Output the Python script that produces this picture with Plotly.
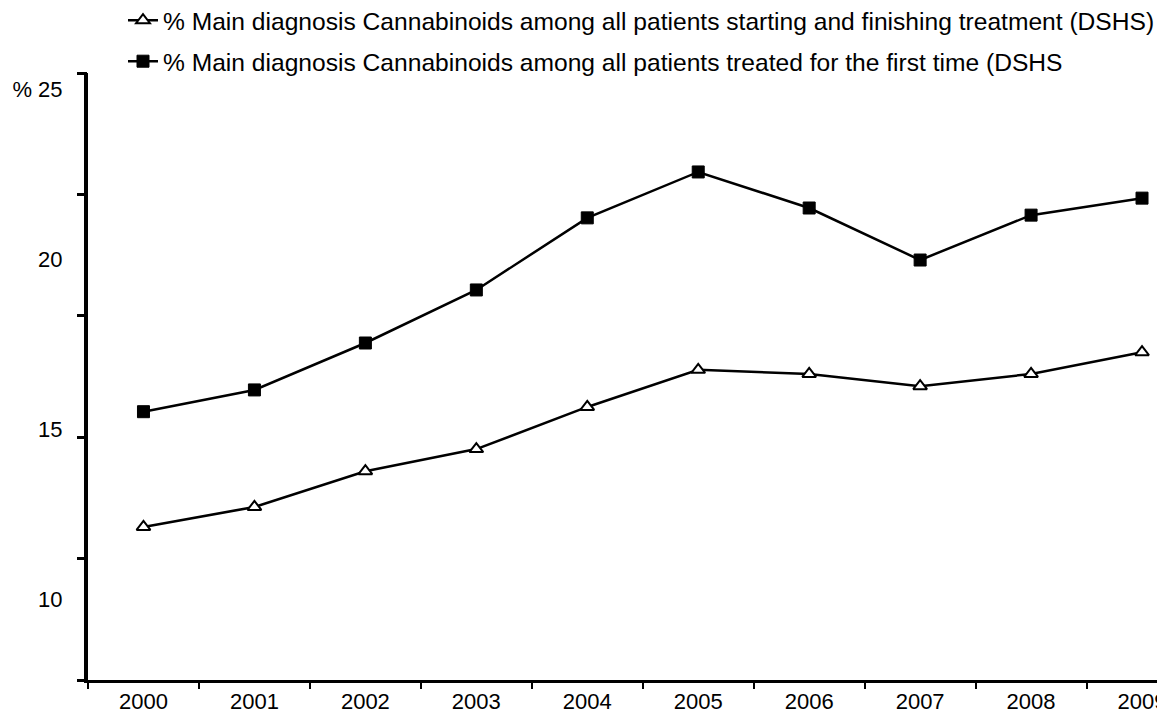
import numpy as np
import plotly.graph_objects as go

years = ["2000", "2001", "2002", "2003", "2004", "2005", "2006", "2007", "2008", "2009"]
pct_start_finish = [12.12, 12.71, 13.76, 14.41, 15.65, 16.74, 16.62, 16.26, 16.62, 17.26]
pct_first_time = [15.51, 16.15, 17.53, 19.09, 21.21, 22.56, 21.50, 19.97, 21.29, 21.79]
name_start_finish = "% Main diagnosis Cannabinoids among all patients starting and finishing treatment (DSHS)"
name_first_time = "% Main diagnosis Cannabinoids among all patients treated for the first time (DSHS"
y_labels = [10, 15, 20, 25]
y_label_text = ["10", "15", "20", "% 25"]

y_range = [7.62, 25.47]
x_range = [-0.5, 9.207]
FONT = "Arial, Liberation Sans, sans-serif"

fig = go.Figure()
fig.add_trace(go.Scatter(
    x=years, y=pct_start_finish, mode="lines+markers", name=name_start_finish,
    legendgroup="a",
    line=dict(color="black", width=2.5),
    marker=dict(symbol="triangle-up", size=12, color="white",
                line=dict(color="black", width=2)),
))
fig.add_trace(go.Scatter(
    x=years, y=pct_first_time, mode="lines+markers", name=name_first_time,
    legendgroup="b",
    line=dict(color="black", width=2.5),
    marker=dict(symbol="square", size=12, color="black",
                line=dict(color="black", width=1)),
))
# invisible trace on second y axis for tick marks
fig.add_trace(go.Scatter(x=years, y=pct_first_time, yaxis="y2", mode="markers",
                         marker=dict(opacity=0), showlegend=False, hoverinfo="skip"))

fig.update_layout(
    width=1165, height=720,
    margin=dict(l=80, r=8, t=65, b=48, autoexpand=False),
    paper_bgcolor="white", plot_bgcolor="white",
    font=dict(family=FONT, size=22, color="black"),
    showlegend=True,
    legend=dict(x=0.0325, xanchor="left", y=1.124, yanchor="top",
                traceorder="grouped", tracegroupgap=6,
                font=dict(size=24.6, family=FONT, color="black"),
                bgcolor="rgba(0,0,0,0)"),
    xaxis=dict(type="category", range=x_range, showgrid=False, zeroline=False,
               automargin=False,
               showline=True, linecolor="black", linewidth=3,
               ticks="outside", tickson="boundaries", ticklen=6, tickwidth=2,
               tickcolor="black", tickfont=dict(size=22, family=FONT, color="black")),
    yaxis=dict(range=y_range, showgrid=False, zeroline=False, automargin=False,
               showline=True, linecolor="black", linewidth=4,
               tickvals=y_labels, ticktext=y_label_text, ticks="",
               ticklabelstandoff=17,
               tickfont=dict(size=22, family=FONT, color="black")),
    yaxis2=dict(range=y_range, overlaying="y", side="left", showgrid=False,
                zeroline=False, showline=False, automargin=False,
                tickvals=list(np.linspace(y_range[0], y_range[1], 6)),
                showticklabels=False, ticks="outside", ticklen=10, tickwidth=3,
                tickcolor="black"),
)

fig.write_html("out.html")
